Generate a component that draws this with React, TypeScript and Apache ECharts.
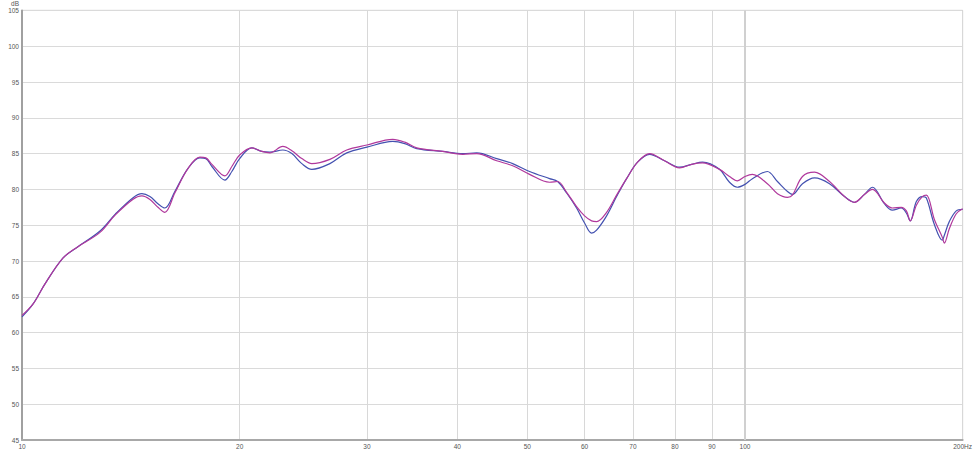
import React, { useEffect, useRef } from 'react';
import * as echarts from 'echarts';

// Frequencies (Hz) at which both traces were read
const freqs = [
  10.0, 10.36, 10.76, 11.39, 11.91, 12.82, 13.45, 14.23, 14.65, 15.03,
  15.42, 15.76, 16.27, 16.96, 17.62, 17.96, 18.31, 19.08, 19.51, 20.0,
  20.79, 21.46, 22.02, 22.95, 23.62, 24.38, 25.17, 26.66, 28.13, 30.0,
  32.57, 33.84, 35.16, 38.19, 40.71, 42.56, 45.35, 47.72, 50.36, 53.67,
  55.06, 56.67, 58.49, 60.0, 61.36, 62.34, 64.36, 66.44, 68.59, 71.03,
  73.79, 77.4, 81.21, 84.37, 87.36, 92.21, 95.19, 97.63, 100.0, 102.4,
  107.4, 110.9, 114.5, 116.3, 120.1, 124.8, 130.9, 137.3, 141.7, 146.3,
  150.1, 155.9, 159.9, 164.5, 167.2, 169.3, 172.6, 175.9, 178.2, 182.8,
  187.5, 188.7, 191.7, 196.0, 200.0,
];

// Blue trace (dB)
const blueDb = [
  62.2, 64.0, 66.8, 70.4, 71.9, 74.2, 76.5, 78.8, 79.4, 79.0,
  78.0, 77.4, 79.7, 82.9, 84.4, 84.3, 83.2, 81.3, 82.5, 84.3,
  85.8, 85.3, 85.2, 85.5, 85.0, 83.6, 82.8, 83.6, 85.1, 85.9,
  86.7, 86.4, 85.7, 85.3, 85.0, 85.1, 84.3, 83.6, 82.5, 81.5,
  81.1, 79.5, 77.4, 75.3, 73.9, 74.3, 76.3, 79.0, 81.5, 83.8,
  84.9, 84.0, 83.1, 83.5, 83.8, 82.8, 81.0, 80.3, 80.7, 81.5,
  82.5, 81.1, 79.7, 79.3, 80.8, 81.6, 80.8, 79.0, 78.2, 79.3,
  80.3, 78.0, 77.1, 77.4, 76.7, 75.6, 78.3, 79.0, 78.8, 75.1,
  72.9, 73.6, 75.5, 77.0, 77.2,
];

// Magenta trace (dB)
const magentaDb = [
  62.4, 64.0, 66.8, 70.4, 71.9, 74.0, 76.4, 78.6, 79.1, 78.6,
  77.5, 76.8, 79.5, 82.9, 84.5, 84.4, 83.5, 81.9, 83.2, 84.8,
  85.8, 85.3, 85.1, 86.0, 85.4, 84.3, 83.6, 84.2, 85.5, 86.2,
  87.0, 86.6, 85.8, 85.3, 84.9, 85.0, 84.0, 83.3, 82.1, 81.0,
  81.1, 79.6, 77.6, 76.3, 75.6, 75.5, 76.8, 79.2, 81.5, 83.8,
  85.0, 84.0, 83.0, 83.5, 83.7, 82.8, 81.8, 81.2, 81.8, 82.1,
  80.8, 79.4, 78.9, 79.2, 81.8, 82.4, 81.1, 79.0, 78.2, 79.3,
  80.0, 78.1, 77.4, 77.5, 77.0, 75.6, 77.8, 79.0, 79.2, 75.8,
  73.3, 72.5, 74.5, 76.6, 77.3,
];

const xTickFreqs = [10, 20, 30, 40, 50, 60, 70, 80, 90, 100, 200];
const xTickLabels = ['10', '20', '30', '40', '50', '60', '70', '80', '90', '100', '200Hz'];
const yMin = 45;
const yMax = 105;
const yStep = 5;
const yUnit = 'dB';

export default function App() {
  const ref = useRef<HTMLDivElement>(null);

  useEffect(() => {
    if (!ref.current) return;
    const chart = echarts.init(ref.current, undefined, { renderer: 'svg' });
    const tickVals = xTickFreqs.map((f) => Math.log10(f));
    const labelFor = (v: number) => {
      const i = tickVals.findIndex((t) => Math.abs(t - v) < 1e-6);
      return i >= 0 ? xTickLabels[i] : '';
    };
    const font = 'Arial, "Liberation Sans", sans-serif';
    chart.setOption({
      animation: false,
      backgroundColor: '#ffffff',
      grid: {
        left: 22,
        right: 11,
        top: 8,
        bottom: 12,
        show: true,
        borderColor: '#b4b4b4',
        borderWidth: 1,
        backgroundColor: 'transparent',
      },
      xAxis: {
        type: 'value',
        min: Math.log10(xTickFreqs[0]),
        max: Math.log10(xTickFreqs[xTickFreqs.length - 1]),
        axisLine: { show: true, onZero: false, lineStyle: { color: '#a8a8a8', width: 2 } },
        axisTick: { show: false, customValues: tickVals },
        axisLabel: {
          customValues: tickVals,
          formatter: (v: number) => labelFor(v),
          fontSize: 6.5,
          color: '#555555',
          fontFamily: font,
          margin: 3,
        },
        splitLine: { show: true, lineStyle: { color: '#d8d8d8', width: 1 } },
      },
      yAxis: {
        type: 'value',
        min: yMin,
        max: yMax,
        interval: yStep,
        name: yUnit,
        nameLocation: 'end',
        nameGap: 1,
        nameTextStyle: {
          fontSize: 6.5,
          color: '#555555',
          fontFamily: font,
          align: 'right',
          verticalAlign: 'bottom',
          padding: [0, 3, -2, 0],
        },
        axisLine: { show: true, lineStyle: { color: '#a0a0a0', width: 2 } },
        axisTick: { show: false },
        axisLabel: { fontSize: 6.5, color: '#555555', fontFamily: font, margin: 3 },
        splitLine: { show: true, lineStyle: { color: '#dadada', width: 1 } },
      },
      series: [
        {
          name: 'blue',
          type: 'line',
          data: freqs.map((f, i) => [Math.log10(f), blueDb[i]]),
          showSymbol: false,
          smooth: 0.35,
          lineStyle: { color: '#4351b0', width: 1.2 },
          itemStyle: { color: '#4351b0' },
          markLine: {
            silent: true,
            symbol: ['none', 'none'],
            label: { show: false },
            lineStyle: { color: '#d0d0d0', width: 2, type: 'solid', opacity: 1 },
            emphasis: { disabled: true },
            data: [{ xAxis: Math.log10(100) }],
            z: 1,
          },
        },
        {
          name: 'magenta',
          type: 'line',
          data: freqs.map((f, i) => [Math.log10(f), magentaDb[i]]),
          showSymbol: false,
          smooth: 0.35,
          lineStyle: { color: '#b0389c', width: 1.2 },
          itemStyle: { color: '#b0389c' },
        },
      ],
    });
    return () => chart.dispose();
  }, []);

  return (
    <div
      ref={ref}
      style={{ position: 'absolute', left: 0, top: 0, width: 975, height: 452 }}
    />
  );
}
